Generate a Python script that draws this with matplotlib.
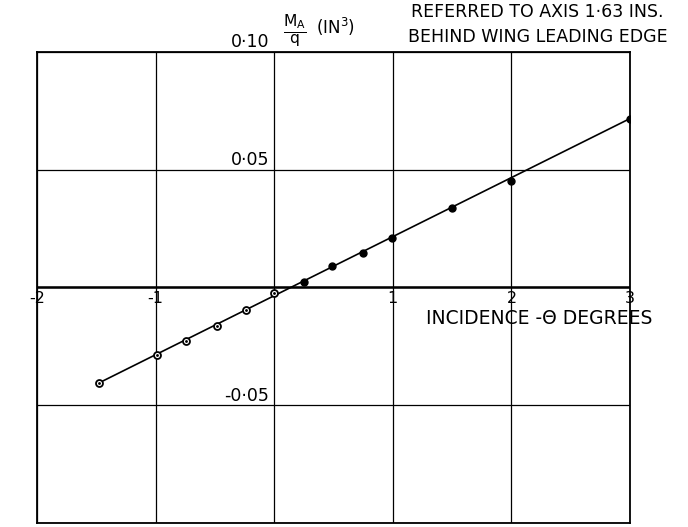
import matplotlib.pyplot as plt

# incidence (deg) and pitching moment M_A/q (in^3)
open_x = [-1.48, -0.99, -0.74, -0.48, -0.24, 0.0]
open_y = [-0.0406, -0.0288, -0.0228, -0.0162, -0.0094, -0.0024]
filled_x = [0.25, 0.49, 0.75, 0.99, 1.50, 2.0, 3.0]
filled_y = [0.0021, 0.0090, 0.0147, 0.0211, 0.0336, 0.0450, 0.0717]

# faired line through the points
line_x = [-1.48, 3.0]
line_y = [-0.0406, 0.0717]

xtick_vals = [-2, -1, 1, 2, 3]
xtick_labels = ["-2", "-1", "1", "2", "3"]
ytick_vals = [0.10, 0.05, -0.05]
ytick_labels = ["0·10", "0·05", "-0·05"]

plt.rcParams["font.family"] = "DejaVu Sans"

fig = plt.figure(figsize=(6.88, 5.27), dpi=100)
ax = fig.add_axes([0.0538, 0.0076, 0.862, 0.894])

ax.set_xlim(-2, 3)
ax.set_ylim(-0.10, 0.10)
ax.set_xticks([-2, -1, 0, 1, 2, 3])
ax.set_yticks([-0.10, -0.05, 0, 0.05, 0.10])
ax.tick_params(length=0, labelbottom=False, labelleft=False)
ax.grid(True, color="black", linewidth=0.9)
for s in ax.spines.values():
    s.set_linewidth(1.3)

ax.axhline(0, color="black", linewidth=1.8)

ax.plot(line_x, line_y, color="black", linewidth=1.2, zorder=3)
ax.plot(open_x, open_y, "o", markersize=5, mfc="white", mec="black", mew=1.3, zorder=4)
ax.plot(open_x, open_y, ".", markersize=2, color="black", zorder=5)
ax.plot(filled_x, filled_y, "o", markersize=5, color="black", zorder=4)

for v, lab in zip(xtick_vals, xtick_labels):
    ax.text(v, -0.0014, lab, ha="center", va="top", fontsize=11.5, clip_on=False)

for v, lab in zip(ytick_vals, ytick_labels):
    ax.text(-0.04, v + 0.004, lab, ha="right", va="center", fontsize=12.5, clip_on=False)

ax.text(1.28, -0.0130, "INCIDENCE -Θ DEGREES", ha="left", va="center", fontsize=13.5)

fig.text(0.429, 0.941, r"$\frac{\mathrm{M_A}}{\mathrm{q}}$", ha="center", va="center", fontsize=16)
fig.text(0.460, 0.949, r"(IN$^3$)", ha="left", va="center", fontsize=12)
fig.text(0.598, 0.977, "REFERRED TO AXIS 1·63 INS.", ha="left", va="center", fontsize=12.5)
fig.text(0.593, 0.930, "BEHIND WING LEADING EDGE", ha="left", va="center", fontsize=12.5)

plt.savefig("out.png", dpi=100)
